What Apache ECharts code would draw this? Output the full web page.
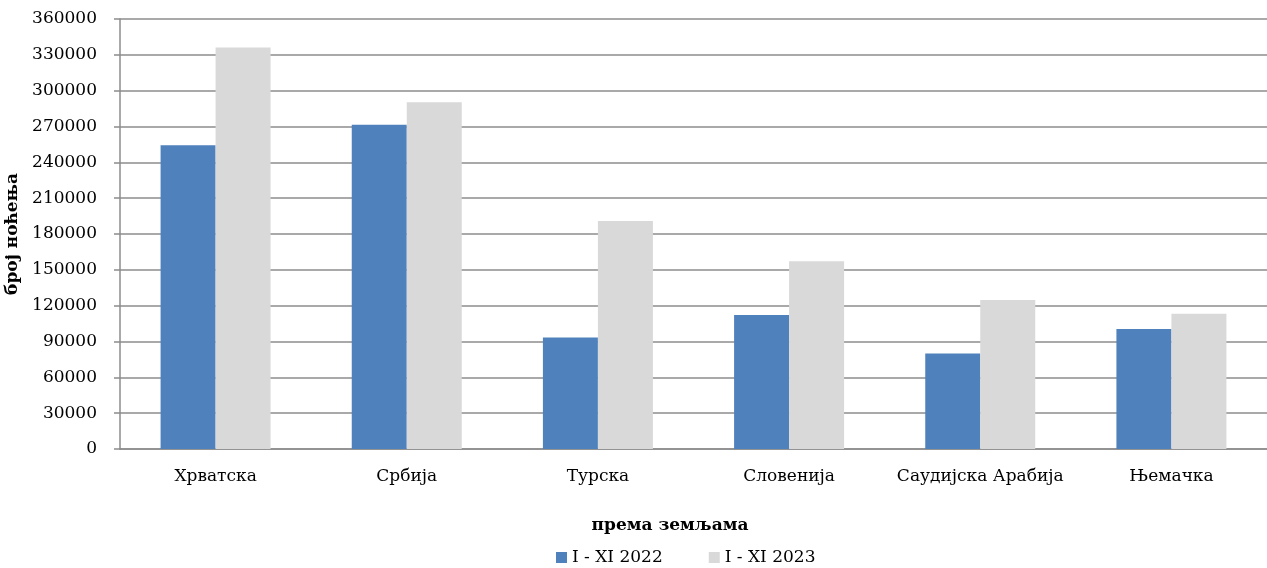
<!DOCTYPE html>
<html>
<head>
<meta charset="utf-8">
<script src="https://cdn.jsdelivr.net/npm/echarts@6/dist/echarts.min.js"></script>
<style>html,body{margin:0;padding:0;background:#fff}#c{width:1267px;height:568px}</style>
</head>
<body>
<div id="c"></div>
<script>
const categories = ['Хрватска', 'Србија', 'Турска', 'Словенија', 'Саудијска Арабија', 'Њемачка'];
const seriesNames = ['I - XI 2022', 'I - XI 2023'];
const values2022 = [254200, 271500, 93400, 112200, 80000, 100500];
const values2023 = [336200, 290200, 190900, 157100, 124700, 113300];
const yAxisName = 'број ноћења';
const xAxisName = 'према земљама';

const font = 'DejaVu Serif';
const chart = echarts.init(document.getElementById('c'));
chart.setOption({
  animation: false,
  textStyle: { fontFamily: font, color: '#000' },
  title: {
    text: xAxisName, left: 665, top: 512, textAlign: 'center',
    textStyle: { fontFamily: font, fontSize: 17, fontWeight: 'bold', color: '#000' }
  },
  legend: {
    data: seriesNames, left: 551, top: 544, itemWidth: 11, itemHeight: 11, itemGap: 46,
    icon: 'rect',
    textStyle: { fontFamily: font, fontSize: 17, color: '#000' }
  },
  grid: { left: 120, right: 0, top: 19, bottom: 119, containLabel: false, outerBoundsMode: 'none' },
  xAxis: {
    type: 'category', data: categories,
    axisLine: { show: true, lineStyle: { color: '#8c8c8c', width: 1.5 } },
    axisTick: { show: false },
    axisLabel: { fontFamily: font, fontSize: 17, color: '#000', margin: 19, interval: 0 }
  },
  yAxis: {
    type: 'value', min: 0, max: 360000, interval: 30000,
    name: yAxisName, nameLocation: 'middle', nameGap: 94,
    nameTextStyle: { fontFamily: font, fontSize: 17, fontWeight: 'bold', color: '#000' },
    axisLine: { show: true, lineStyle: { color: '#8c8c8c', width: 1.5 } },
    axisTick: { show: true, length: 6, lineStyle: { color: '#8c8c8c', width: 1.5 } },
    axisLabel: { fontFamily: font, fontSize: 17, color: '#000', margin: 23, formatter: v => String(v) },
    splitLine: { lineStyle: { color: '#8c8c8c', width: 1.5 } }
  },
  series: [
    { name: seriesNames[0], type: 'bar', data: values2022, barWidth: 55, barGap: '0%',
      itemStyle: { color: '#4f81bd' } },
    { name: seriesNames[1], type: 'bar', data: values2023, barWidth: 55,
      itemStyle: { color: '#d9d9d9' } }
  ]
});
</script>
</body>
</html>
